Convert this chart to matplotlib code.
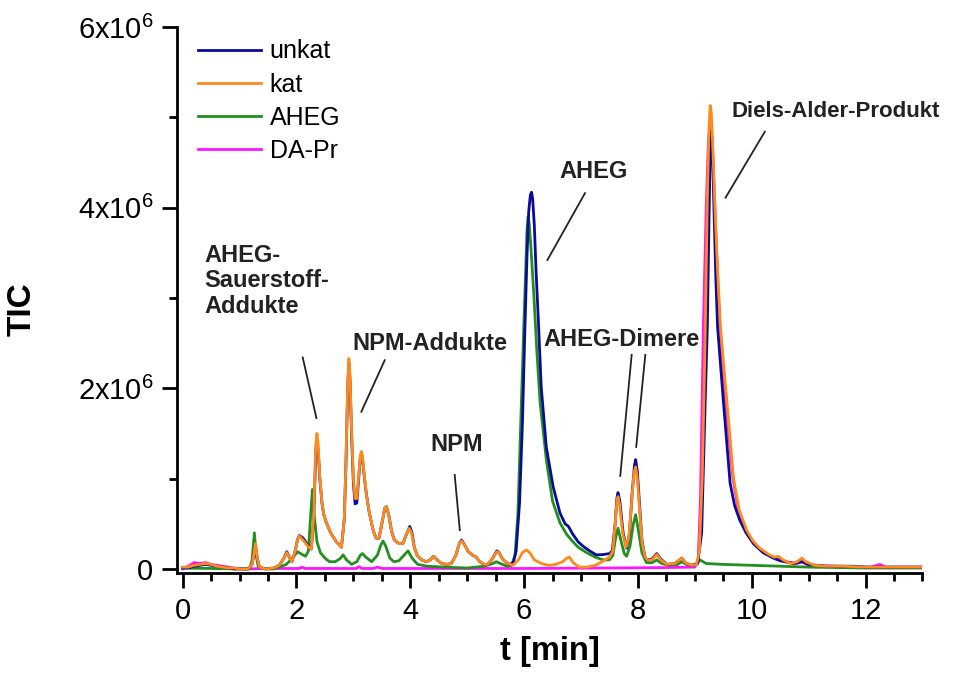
import matplotlib
matplotlib.use("Agg")
import matplotlib.pyplot as plt
from matplotlib.ticker import MultipleLocator, FuncFormatter

plt.rcParams['font.family'] = ['Liberation Sans', 'DejaVu Sans']
plt.rcParams['mathtext.fontset'] = 'custom'
plt.rcParams['mathtext.rm'] = 'Liberation Sans'
plt.rcParams['mathtext.default'] = 'regular'

# ---- data (time in min, TIC in units of 1e6) ----
kat_t = [0.0, 0.1, 0.2, 0.3, 0.4, 0.5, 0.6, 0.7, 0.8, 0.9, 1.0, 1.15, 1.22, 1.26, 1.28, 1.31, 1.35, 1.45,
         1.6, 1.7, 1.78, 1.83, 1.88, 1.92, 1.97, 2.02, 2.05, 2.10, 2.14, 2.20, 2.26, 2.30, 2.32, 2.34, 2.36, 2.38,
         2.41, 2.45, 2.48, 2.52, 2.60, 2.70, 2.79, 2.84, 2.87, 2.90, 2.92, 2.94, 2.97, 3.00, 3.03, 3.06, 3.10,
         3.12, 3.14, 3.16, 3.19, 3.23, 3.28, 3.35, 3.40, 3.45, 3.50, 3.55, 3.58, 3.62, 3.67, 3.72, 3.80, 3.87,
         3.93, 3.98, 4.02, 4.07, 4.12, 4.20, 4.28, 4.35, 4.41, 4.47, 4.55, 4.65, 4.72, 4.80, 4.86, 4.90, 4.96,
         5.02, 5.10, 5.16, 5.22, 5.30, 5.36, 5.45, 5.52, 5.56, 5.62, 5.69, 5.75, 5.81, 5.90, 5.97, 6.04, 6.10,
         6.18, 6.27, 6.36, 6.44, 6.55, 6.68, 6.75, 6.80, 6.86, 6.97, 7.10, 7.25, 7.34, 7.42, 7.50, 7.56, 7.60,
         7.63, 7.65, 7.68, 7.73, 7.79, 7.84, 7.89, 7.93, 7.96, 7.99, 8.03, 8.07, 8.12, 8.16, 8.25, 8.33, 8.40,
         8.51, 8.65, 8.73, 8.77, 8.83, 8.94, 9.03, 9.08, 9.13, 9.17, 9.19, 9.22, 9.25, 9.27, 9.29, 9.32, 9.36,
         9.40, 9.45, 9.56, 9.68, 9.78, 9.91, 10.02, 10.14, 10.30, 10.40, 10.47, 10.55, 10.68, 10.80, 10.88,
         10.95, 11.1, 11.3, 11.6, 12.0, 12.5, 13.0]
kat_y = [0.02, 0.02, 0.04, 0.05, 0.06, 0.05, 0.03, 0.02, 0.01, 0.01, 0.0, 0.0, 0.05, 0.20, 0.28, 0.12, 0.02, 0.0,
         0.01, 0.04, 0.12, 0.18, 0.12, 0.08, 0.18, 0.33, 0.365, 0.33, 0.30, 0.25, 0.22, 0.55, 0.95, 1.38, 1.50, 1.38,
         1.02, 0.72, 0.60, 0.52, 0.40, 0.30, 0.24, 0.55, 1.20, 2.05, 2.33, 2.15, 1.50, 1.00, 0.78, 0.78, 1.08,
         1.24, 1.30, 1.24, 1.05, 0.82, 0.62, 0.42, 0.34, 0.34, 0.50, 0.67, 0.69, 0.60, 0.42, 0.32, 0.28, 0.28,
         0.38, 0.45, 0.40, 0.24, 0.15, 0.10, 0.08, 0.10, 0.14, 0.10, 0.06, 0.05, 0.06, 0.15, 0.28, 0.31, 0.26,
         0.19, 0.15, 0.13, 0.08, 0.05, 0.05, 0.12, 0.19, 0.18, 0.11, 0.07, 0.05, 0.045, 0.10, 0.18, 0.21, 0.18,
         0.10, 0.07, 0.05, 0.04, 0.05, 0.08, 0.12, 0.13, 0.07, 0.02, 0.02, 0.04, 0.07, 0.10, 0.13, 0.20, 0.50,
         0.74, 0.80, 0.70, 0.40, 0.24, 0.35, 0.75, 1.06, 1.13, 1.00, 0.65, 0.30, 0.14, 0.10, 0.10, 0.16, 0.10,
         0.05, 0.06, 0.10, 0.12, 0.07, 0.04, 0.05, 0.20, 1.00, 2.20, 2.90, 4.10, 4.90, 5.13, 5.05, 4.60, 3.90,
         3.30, 2.68, 1.87, 1.00, 0.65, 0.43, 0.31, 0.23, 0.16, 0.13, 0.14, 0.10, 0.06, 0.08, 0.12,
         0.08, 0.04, 0.03, 0.03, 0.02, 0.02, 0.02]

unkat_t = [0.0, 0.1, 0.2, 0.3, 0.4, 0.5, 0.6, 0.7, 0.8, 0.9, 1.0, 1.15, 1.22, 1.26, 1.28, 1.31, 1.35, 1.45,
           1.6, 1.7, 1.78, 1.83, 1.88, 1.92, 1.97, 2.02, 2.05, 2.10, 2.14, 2.20, 2.26, 2.30, 2.32, 2.34, 2.36, 2.38,
           2.41, 2.45, 2.48, 2.52, 2.60, 2.70, 2.79, 2.84, 2.87, 2.90, 2.92, 2.94, 2.97, 3.00, 3.03, 3.06, 3.10,
           3.12, 3.14, 3.16, 3.19, 3.23, 3.28, 3.35, 3.40, 3.45, 3.50, 3.55, 3.58, 3.62, 3.67, 3.72, 3.80, 3.87,
           3.93, 3.99, 4.03, 4.07, 4.12, 4.20, 4.28, 4.35, 4.41, 4.47, 4.55, 4.65, 4.72, 4.80, 4.86, 4.90, 4.96,
           5.02, 5.10, 5.16, 5.22, 5.30, 5.36, 5.45, 5.52, 5.56, 5.62, 5.69, 5.75, 5.81, 5.86, 5.92, 5.97, 6.01,
           6.05, 6.08, 6.11, 6.13, 6.15, 6.18, 6.21, 6.25, 6.30, 6.39, 6.51, 6.63, 6.72, 6.78, 6.85, 6.95, 7.04,
           7.15, 7.27, 7.40, 7.50, 7.55, 7.60, 7.63, 7.65, 7.68, 7.74, 7.80, 7.85, 7.90, 7.94, 7.96, 7.99, 8.03,
           8.07, 8.12, 8.15, 8.25, 8.33, 8.40, 8.51, 8.65, 8.73, 8.77, 8.83, 8.94, 9.05, 9.12, 9.18, 9.22, 9.25,
           9.27, 9.29, 9.31, 9.34, 9.37, 9.40, 9.50, 9.62, 9.70, 9.79, 9.90, 10.03, 10.20, 10.38, 10.50, 10.74,
           10.88, 11.0, 11.3, 11.8, 12.0, 13.0]
unkat_y = [0.01, 0.01, 0.03, 0.04, 0.05, 0.04, 0.03, 0.02, 0.01, 0.0, 0.0, 0.0, 0.05, 0.20, 0.26, 0.12, 0.02, 0.0,
           0.01, 0.04, 0.12, 0.19, 0.12, 0.08, 0.18, 0.33, 0.37, 0.35, 0.32, 0.26, 0.22, 0.52, 0.90, 1.32, 1.43, 1.32,
           1.00, 0.72, 0.60, 0.52, 0.40, 0.30, 0.24, 0.55, 1.18, 2.00, 2.29, 2.10, 1.45, 0.95, 0.72, 0.73, 1.05,
           1.22, 1.28, 1.22, 1.03, 0.82, 0.62, 0.42, 0.34, 0.34, 0.50, 0.67, 0.69, 0.60, 0.42, 0.32, 0.28, 0.28,
           0.38, 0.47, 0.40, 0.24, 0.15, 0.10, 0.08, 0.10, 0.14, 0.10, 0.06, 0.05, 0.06, 0.15, 0.28, 0.32, 0.26,
           0.19, 0.15, 0.13, 0.08, 0.05, 0.05, 0.12, 0.20, 0.18, 0.11, 0.07, 0.05, 0.07, 0.20, 0.73, 1.60, 2.57,
           3.45, 3.95, 4.14, 4.17, 4.10, 3.80, 3.30, 2.76, 2.02, 1.35, 0.91, 0.62, 0.50, 0.47, 0.39, 0.30, 0.25,
           0.20, 0.155, 0.16, 0.17, 0.20, 0.50, 0.78, 0.845, 0.76, 0.40, 0.23, 0.38, 0.85, 1.15, 1.21, 1.08, 0.70,
           0.32, 0.14, 0.10, 0.11, 0.17, 0.11, 0.05, 0.06, 0.10, 0.12, 0.07, 0.04, 0.06, 0.40, 1.80, 2.68, 3.90,
           4.60, 4.85, 4.65, 3.90, 3.20, 2.68, 1.87, 0.95, 0.70, 0.54, 0.40, 0.28, 0.18, 0.12, 0.09, 0.06,
           0.08, 0.05, 0.03, 0.03, 0.02, 0.02]

aheg_t = [0.0, 1.0, 1.18, 1.22, 1.26, 1.29, 1.33, 1.45, 1.6, 1.7, 1.82, 1.9, 2.02, 2.10, 2.16, 2.21, 2.25, 2.28,
          2.31, 2.36, 2.42, 2.50, 2.58, 2.68, 2.76, 2.82, 2.88, 2.97, 3.06, 3.12, 3.16, 3.22, 3.32, 3.42, 3.48,
          3.52, 3.57, 3.64, 3.71, 3.80, 3.90, 3.96, 4.03, 4.13, 4.3, 4.6, 5.0, 5.3, 5.45, 5.51, 5.58, 5.70, 5.78,
          5.84, 5.89, 5.94, 5.99, 6.03, 6.05, 6.07, 6.09, 6.12, 6.17, 6.22, 6.28, 6.39, 6.50, 6.63, 6.75, 6.83,
          6.95, 7.1, 7.25, 7.39, 7.50, 7.56, 7.61, 7.65, 7.70, 7.76, 7.80, 7.86, 7.92, 7.96, 8.01, 8.07, 8.15,
          8.25, 8.33, 8.42, 8.55, 8.70, 8.77, 8.85, 8.95, 9.03, 9.09, 9.2, 9.5, 10.0, 10.5, 11.0, 12.0, 13.0]
aheg_y = [0.01, 0.0, 0.0, 0.10, 0.40, 0.15, 0.02, 0.0, 0.0, 0.02, 0.05, 0.10, 0.19, 0.16, 0.14, 0.20, 0.60, 0.88,
          0.60, 0.30, 0.18, 0.12, 0.08, 0.08, 0.11, 0.155, 0.10, 0.05, 0.08, 0.15, 0.17, 0.13, 0.08, 0.15, 0.26,
          0.31, 0.25, 0.12, 0.08, 0.09, 0.16, 0.20, 0.12, 0.05, 0.03, 0.02, 0.01, 0.03, 0.06, 0.08, 0.06, 0.03, 0.04,
          0.15, 0.60, 1.60, 2.60, 3.35, 3.75, 3.90, 3.82, 3.55, 3.05, 2.45, 1.85, 1.21, 0.75, 0.51, 0.38, 0.32,
          0.24, 0.18, 0.13, 0.10, 0.10, 0.15, 0.35, 0.45, 0.32, 0.17, 0.14, 0.25, 0.50, 0.60, 0.42, 0.18, 0.07,
          0.07, 0.10, 0.06, 0.04, 0.05, 0.08, 0.05, 0.04, 0.05, 0.10, 0.06, 0.05, 0.04, 0.03, 0.02, 0.01, 0.01]

dapr_t = [0.0, 0.1, 0.2, 0.3, 0.4, 0.5, 0.6, 0.8, 0.9, 1.1, 1.5, 2.05, 2.1, 2.15, 3.05, 3.1, 3.15, 3.35, 3.42,
          3.5, 5.0, 6.0, 7.5, 8.5, 9.0, 9.06, 9.10, 9.15, 9.20, 9.24, 9.27, 9.30, 9.33, 9.37, 9.44, 9.55, 9.67,
          9.78, 9.90, 10.02, 10.14, 10.30, 10.47, 10.60, 10.80, 10.88, 11.0, 11.5, 12.1, 12.25, 12.35, 13.0]
dapr_y = [0.0, 0.03, 0.07, 0.06, 0.07, 0.05, 0.04, 0.02, 0.01, 0.0, 0.005, 0.005, 0.02, 0.005, 0.005, 0.025,
          0.005, 0.005, 0.02, 0.005, 0.005, 0.005, 0.01, 0.015, 0.02, 0.10, 0.80, 2.68, 4.00, 4.75, 4.92, 4.80,
          4.35, 3.70, 2.68, 1.80, 1.00, 0.60, 0.42, 0.30, 0.22, 0.15, 0.11, 0.08, 0.06, 0.08, 0.04, 0.03, 0.02,
          0.05, 0.02, 0.02]

series = [("unkat", unkat_t, unkat_y, "#0b0b99", 3),
          ("kat", kat_t, kat_y, "#ff8a1c", 4),
          ("AHEG", aheg_t, aheg_y, "#22901f", 2),
          ("DA-Pr", dapr_t, dapr_y, "#ff14ff", 1)]

annotations = [
    ("AHEG-\nSauerstoff-\nAddukte", (0.38, 3.60), 'left', 'top', 17, [((2.11, 2.34), (2.35, 1.67))]),
    ("NPM-Addukte", (2.99, 2.50), 'left', 'center', 17, [((3.55, 2.31), (3.14, 1.74))]),
    ("NPM", (4.82, 1.38), 'center', 'center', 17, [((4.78, 1.04), (4.87, 0.43))]),
    ("AHEG", (7.22, 4.40), 'center', 'center', 17, [((7.07, 4.16), (6.41, 3.42))]),
    ("AHEG-Dimere", (7.72, 2.54), 'center', 'center', 17, [((7.89, 2.37), (7.69, 1.03)), ((8.13, 2.37), (7.97, 1.35))]),
    ("Diels-Alder-Produkt", (11.48, 5.06), 'center', 'center', 16, [((10.23, 4.84), (9.54, 4.11))]),
]

fig = plt.figure(figsize=(9.65, 6.73), dpi=100)
ax = fig.add_axes([0.1834, 0.1486, 0.7725, 0.8114])

for name, t, y, c, z in series:
    ax.plot(t, [v * 1e6 for v in y], color=c, lw=2.0, label=name, zorder=z, solid_joinstyle='round')

for txt, (tx, ty), ha, va, fs, lines in annotations:
    ax.text(tx, ty * 1e6, txt, ha=ha, va=va, fontsize=fs, fontweight='bold', color='#222222',
            linespacing=1.15, zorder=6)
    for (x0, y0), (x1, y1) in lines:
        ax.plot([x0, x1], [y0 * 1e6, y1 * 1e6], color='#222222', lw=1.3, zorder=6)

ax.set_xlim(-0.1, 13.0)
ax.set_ylim(-0.045e6, 6.0e6)

for s in ['top', 'right']:
    ax.spines[s].set_visible(False)
for s in ['left', 'bottom']:
    ax.spines[s].set_linewidth(2.0)

ax.xaxis.set_major_locator(MultipleLocator(2))
ax.xaxis.set_minor_locator(MultipleLocator(0.5))
ax.yaxis.set_major_locator(MultipleLocator(2e6))
ax.yaxis.set_minor_locator(MultipleLocator(1e6))

def yfmt(v, pos):
    if abs(v) < 1:
        return "0"
    return "%dx10$^{6}$" % round(v / 1e6)

ax.yaxis.set_major_formatter(FuncFormatter(yfmt))
ax.tick_params(axis='both', which='major', direction='out', length=11, width=2.0, labelsize=21, pad=6)
ax.tick_params(axis='both', which='minor', direction='out', length=6, width=2.0)

ax.set_xlabel("t [min]", fontsize=23.5, fontweight='bold', labelpad=8)
ax.set_ylabel("TIC", fontsize=24, fontweight='bold')
ax.yaxis.set_label_coords(-0.187, 0.4835)

leg = ax.legend(loc='upper left', bbox_to_anchor=(0.012, 1.0), frameon=False, fontsize=18,
                handlelength=2.5, handletextpad=0.35, labelspacing=0.37, borderaxespad=0.1)

fig.savefig("out.png", dpi=100)
